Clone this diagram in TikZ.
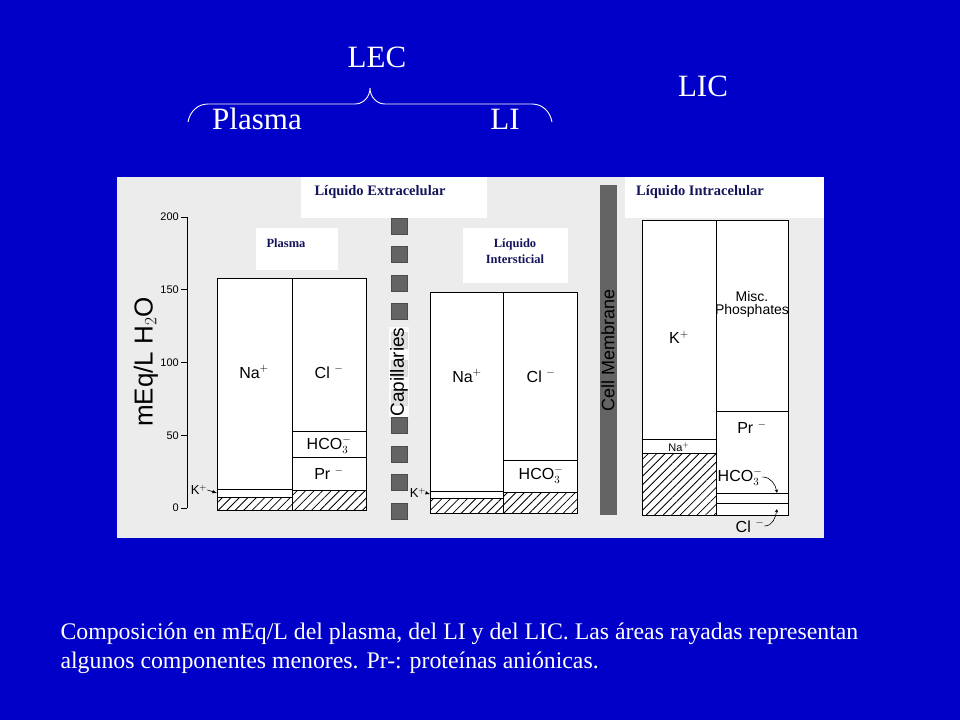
\documentclass[tikz,border=0pt]{standalone}
\usepackage{fontspec}
\setmainfont{Liberation Serif}
\setsansfont{Liberation Sans}
\usetikzlibrary{arrows,calc,positioning,patterns.meta}
\definecolor{slideblue}{RGB}{0,0,200}
\definecolor{scangray}{RGB}{236,236,236}
\definecolor{navytext}{RGB}{20,20,90}
\definecolor{membgray}{RGB}{100,100,100}
\tikzset{
        bar/.style = {draw, fill=white, line width=0.8pt},
        hatch/.style = {draw, line width=0.8pt,
            pattern={Lines[angle=45,distance=6pt,line width=0.8pt]}},
        ion/.style = {font=\sffamily\fontsize{16}{17}\selectfont, inner sep=0pt},
        tick/.style = {font=\sffamily\fontsize{11}{12}\selectfont, anchor=east, inner sep=1pt},
        title/.style = {text=white, font=\fontsize{31}{34}\selectfont, inner sep=0pt},
        tag/.style = {fill=white, text=navytext, font=\bfseries\fontsize{14.5}{16}\selectfont, align=center},
        capbox/.style = {fill=membgray, draw=black!70},
        karrow/.style = {draw, -latex, line width=0.6pt},
    }

\begin{document}
\begin{tikzpicture}[x=1pt,y=-1pt]
    \fill[slideblue] (0,0) rectangle (960,720);
    \useasboundingbox (0,0) rectangle (960,720);

    % top labels
    \node[title] (lec) at (377,57) {LEC};
    \node[title] (lic) at (703,86) {LIC};
    \node[title] (plasma) at (257,119) {Plasma};
    \node[title] (li) at (505,119) {LI};
    \draw[white, line width=0.9pt] (188,122) to[out=80,in=180] (208,104) -- (355,104)
        to[out=0,in=-90] (370,88) to[out=-90,in=180] (385,104) -- (532,104) to[out=0,in=100] (552,122);

    % scanned figure
    \fill[scangray] (117,177) rectangle (824,538);
    \fill[white] (301,177) rectangle (487,218);
    \fill[white] (625,177) rectangle (824,218);
    \node[tag] (lec tag) at (380,192) {Líquido Extracelular};
    \node[tag] (lic tag) at (700,192) {Líquido Intracelular};
    \node[tag, minimum width=82pt, minimum height=42pt] (pl tag) at (297,249) {};
    \node[tag, font=\bfseries\fontsize{12.5}{14}\selectfont] at (286,243) {Plasma};
    \node[tag, minimum width=105pt, minimum height=55pt] (li tag) at (515,255) {};
    \node[tag, font=\bfseries\fontsize{12.5}{16}\selectfont] at (515,251) {Líquido\\Intersticial};

    % axis
    \draw[line width=0.8pt] (187,217) -- (187,508);
    \foreach \v in {0,50,100,150,200} {
        \draw[line width=0.8pt] (187,{508-1.455*\v}) -- (181,{508-1.455*\v});
        \node[tick] at (180,{508-1.455*\v}) {\v};
    }
    \node[rotate=90, font=\sffamily\fontsize{26}{28}\selectfont] (ylab) at (146,362) {mEq/L H$_2$O};

    % plasma
    \draw[bar] (217,278) rectangle (292,510);
    \draw[bar] (292,278) rectangle (366,510);
    \draw[line width=0.8pt] (217,489) -- (292,489);
    \draw[hatch] (217,497) rectangle (292,510);
    \draw[line width=0.8pt] (292,431) -- (366,431);
    \draw[line width=0.8pt] (292,457) -- (366,457);
    \draw[hatch] (292,490) rectangle (366,510);
    \node[ion] at (254,372) {Na$^+$};
    \node[ion] at (329,372) {Cl $^-$};
    \node[ion] at (329,445) {HCO$_3^-$};
    \node[ion] at (329,473) {Pr $^-$};
    \node[ion, font=\sffamily\fontsize{13}{14}\selectfont] (kp1) at (199,490) {K$^+$};
    \coordinate (kp1 end) at (217,493);
    \draw[karrow] (kp1.east) -- (kp1 end);

    % capillaries
    \foreach \i in {0,...,10} \draw[capbox] (391,{218+28.5*\i}) rectangle (407,{234+28.5*\i});
    \node[rotate=90, fill=white, fill opacity=0.8, text opacity=1, inner sep=1pt,
        font=\sffamily\fontsize{19}{20}\selectfont] (cap) at (399,372) {Capillaries};

    % interstitial fluid
    \draw[bar] (430,292) rectangle (503,513);
    \draw[bar] (503,292) rectangle (577,513);
    \draw[line width=0.8pt] (430,491) -- (503,491);
    \draw[hatch] (430,498) rectangle (503,513);
    \draw[line width=0.8pt] (503,460) -- (577,460);
    \draw[hatch] (503,492) rectangle (577,513);
    \node[ion] at (467,376) {Na$^+$};
    \node[ion] at (541,376) {Cl $^-$};
    \node[ion] at (541,475) {HCO$_3^-$};
    \node[ion, font=\sffamily\fontsize{13}{14}\selectfont] (kp2) at (418,493) {K$^+$};
    \coordinate (kp2 end) at (430,494);
    \draw[karrow] (kp2.east) -- (kp2 end);

    % cell membrane
    \fill[membgray] (600,185) rectangle (617,515);
    \node[rotate=90, font=\sffamily\fontsize{18}{19}\selectfont] (memb) at (608,350) {Cell Membrane};

    % intracellular fluid
    \draw[bar] (642,220) rectangle (716,515);
    \draw[bar] (716,220) rectangle (788,515);
    \draw[line width=0.8pt] (642,439) -- (716,439);
    \draw[hatch] (642,453) rectangle (716,515);
    \draw[line width=0.8pt] (716,411) -- (788,411);
    \draw[line width=0.8pt] (716,493) -- (788,493);
    \draw[line width=0.8pt] (716,503) -- (788,503);
    \node[ion] at (679,337) {K$^+$};
    \node[ion, font=\sffamily\fontsize{11}{12}\selectfont] at (679,447) {Na$^+$};
    \node[ion, align=center, font=\sffamily\fontsize{14}{15}\selectfont] at (752,304) {Misc.\\[-2pt]Phosphates};
    \node[ion] at (752,427) {Pr $^-$};
    \node[ion] (hco ic) at (740,477) {HCO$_3^-$};
    \node[ion] (cl ic) at (750,526) {Cl $^-$};
    \coordinate (hco end) at (777,493);
    \coordinate (cl end) at (777,509);
    \draw[karrow, -stealth] (hco ic.east) to[out=0,in=100] (hco end);
    \draw[karrow, -stealth] (cl ic.east) to[out=0,in=-100] (cl end);

    % caption
    \node[anchor=west, text=white, align=left, font=\fontsize{23.8}{29}\selectfont] (caption) at (57,648)
        {Composición en mEq/L del plasma, del LI y del LIC. Las áreas rayadas representan\\
         algunos componentes menores. Pr-: proteínas aniónicas.};
\end{tikzpicture}
\end{document}
